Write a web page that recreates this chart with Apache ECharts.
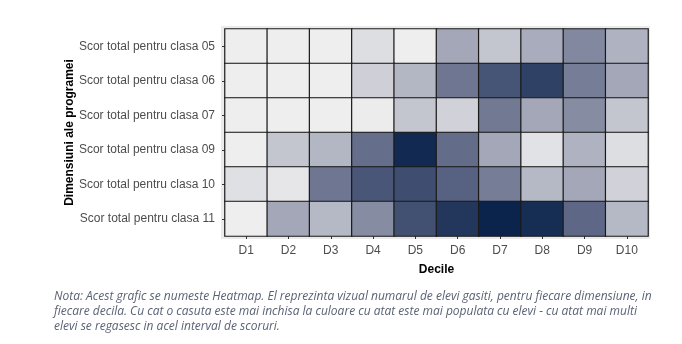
<!DOCTYPE html>
<html><head><meta charset="utf-8">
<script src="https://cdn.jsdelivr.net/npm/echarts@6/dist/echarts.min.js"></script>
<style>html,body{margin:0;padding:0;background:#fff}#c{width:682px;height:344px}</style>
</head><body><div id="c"></div>
<script>
const deciles = ['D1','D2','D3','D4','D5','D6','D7','D8','D9','D10'];
const dims = ['Scor total pentru clasa 05','Scor total pentru clasa 06','Scor total pentru clasa 07','Scor total pentru clasa 09','Scor total pentru clasa 10','Scor total pentru clasa 11'];
const clasa05 = [0, 0, 0, 8, 0, 35, 20, 33, 50, 30];
const clasa06 = [0, 0, 0, 15, 28, 58, 75, 85, 55, 35];
const clasa07 = [0, 0, 0, 1, 20, 14, 57, 35, 48, 20];
const clasa09 = [0, 20, 28, 62, 97, 63, 35, 6, 30, 8];
const clasa10 = [7, 4, 58, 74, 78, 68, 55, 27, 35, 14];
const clasa11 = [0, 35, 27, 48, 77, 90, 100, 95, 65, 27];
const rows = [clasa05, clasa06, clasa07, clasa09, clasa10, clasa11];
const noteLines = [
 'Nota: Acest grafic se numeste Heatmap. El reprezinta vizual numarul de elevi gasiti, pentru fiecare dimensiune, in',
 'fiecare decila. Cu cat o casuta este mai inchisa la culoare cu atat este mai populata cu elevi - cu atat mai multi',
 'elevi se regasesc in acel interval de scoruri.'
];
const data = [];
rows.forEach((r, yi) => r.forEach((v, xi) => data.push([xi, yi, v])));
const chart = echarts.init(document.getElementById('c'), null, {renderer:'canvas'});
chart.setOption({
  animation:false,
  grid:{left:225, top:29, width:423, height:207},
  xAxis:{type:'category', data:deciles, name:'Decile', nameLocation:'middle', nameGap:28,
    nameTextStyle:{fontFamily:'Liberation Sans', fontWeight:'bold', fontSize:12, color:'#000'},
    axisLine:{show:false}, axisTick:{show:true, alignWithLabel:true, length:3, lineStyle:{color:'#333'}},
    axisLabel:{fontFamily:'Liberation Sans', fontSize:12, color:'#4d4d4d', margin:9},
    splitLine:{show:false}},
  yAxis:{type:'category', data:dims, inverse:true, name:'Dimensiuni ale programei', nameLocation:'middle', nameGap:149, nameMoveOverlap:false,
    nameTextStyle:{fontFamily:'Liberation Sans', fontWeight:'bold', fontSize:12, color:'#000'},
    axisLine:{show:false}, axisTick:{show:true, alignWithLabel:true, length:3, lineStyle:{color:'#333'}},
    axisLabel:{fontFamily:'Liberation Sans', fontSize:12, color:'#4d4d4d', margin:10},
    splitLine:{show:false}},
  visualMap:{show:false, min:0, max:100, dimension:2, inRange:{color:['#eeeeee','#a8abbb','#5a6483','#0b244c']}},
  graphic:[
    {type:'rect', z:-10, shape:{x:221, y:26, width:429, height:213}, style:{fill:'#ebebeb'}},
    {type:'text', left:54, top:289, style:{text:noteLines.join('\n'), lineHeight:15, font:'italic 12px "Open Sans"', fill:'#5b6275'}}
  ],
  series:[{type:'heatmap', data:data, itemStyle:{borderColor:'#1a1a1a', borderWidth:1.2}, emphasis:{disabled:true}}]
});
</script></body></html>
